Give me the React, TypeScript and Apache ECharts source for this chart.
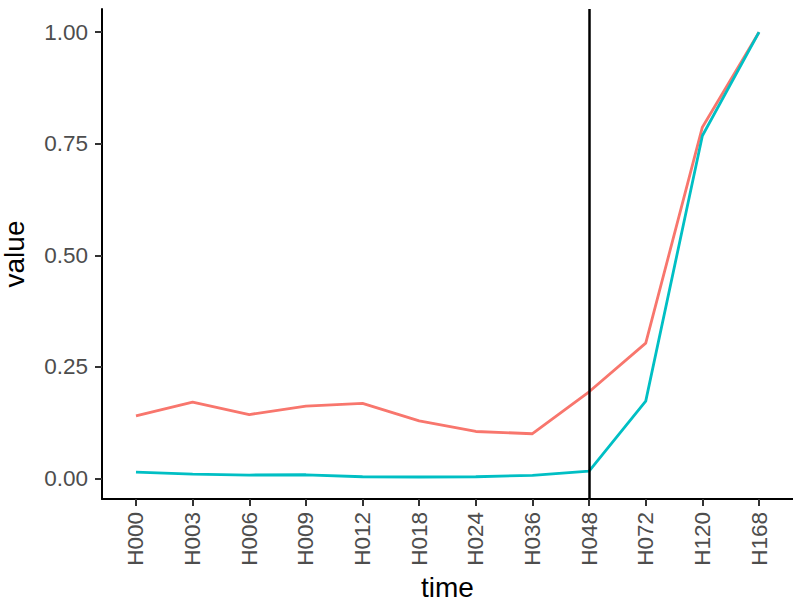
import React, { useEffect, useRef } from "react";
import * as echarts from "echarts";

const categories = ["H000", "H003", "H006", "H009", "H012", "H018", "H024", "H036", "H048", "H072", "H120", "H168"];
const seriesRed = [0.140, 0.171, 0.143, 0.162, 0.168, 0.129, 0.105, 0.100, 0.194, 0.303, 0.787, 1.0];
const seriesCyan = [0.014, 0.0096, 0.0074, 0.008, 0.0036, 0.003, 0.0036, 0.0067, 0.0163, 0.173, 0.768, 1.0];
const yTicks = [0, 0.25, 0.5, 0.75, 1.0];
const vlineCategory = "H048";

const FONT = "'Liberation Sans', Arial, Helvetica, sans-serif";

export default function App() {
  const ref = useRef<HTMLDivElement>(null);
  useEffect(() => {
    if (!ref.current) return;
    const chart = echarts.init(ref.current, null, { renderer: "svg" });
    const idx = categories.map((_, i) => i);
    const toPts = (arr: number[]) => arr.map((v, i) => [i, v]);
    chart.setOption({
      animation: false,
      backgroundColor: "#ffffff",
      grid: { left: 102, right: 0, top: 9, bottom: 104, containLabel: false, outerBoundsMode: "none" },
      xAxis: {
        type: "value",
        min: -0.6,
        max: categories.length - 1 + 0.6,
        name: "time",
        nameLocation: "middle",
        nameGap: 72,
        nameTextStyle: { fontFamily: FONT, fontSize: 28, color: "#000000" },
        splitLine: { show: false },
        axisLine: { show: true, onZero: false, lineStyle: { color: "#000000", width: 2 } },
        axisTick: { show: true, customValues: idx, length: 7, lineStyle: { color: "#333333", width: 2 } },
        axisLabel: {
          customValues: idx,
          rotate: 90,
          margin: 13,
          fontFamily: FONT,
          fontSize: 22.5,
          color: "#4D4D4D",
          formatter: (v: number) => categories[Math.round(v)] ?? "",
        },
      },
      yAxis: {
        type: "value",
        min: -0.0463,
        max: 1.052,
        name: "value",
        nameLocation: "middle",
        nameGap: 74,
        nameTextStyle: { fontFamily: FONT, fontSize: 28, color: "#000000" },
        splitLine: { show: false },
        axisLine: { show: true, onZero: false, lineStyle: { color: "#000000", width: 2 } },
        axisTick: { show: true, customValues: yTicks, length: 7, lineStyle: { color: "#333333", width: 2 } },
        axisLabel: {
          customValues: yTicks,
          margin: 14,
          fontFamily: FONT,
          fontSize: 22.5,
          color: "#4D4D4D",
          formatter: (v: number) => v.toFixed(2),
        },
      },
      series: [
        {
          type: "line",
          data: toPts(seriesRed),
          symbol: "none",
          lineStyle: { color: "#F8766D", width: 2.8 },
          itemStyle: { color: "#F8766D" },
          z: 3,
        },
        {
          type: "line",
          data: toPts(seriesCyan),
          symbol: "none",
          lineStyle: { color: "#00BFC4", width: 2.8 },
          itemStyle: { color: "#00BFC4" },
          z: 4,
          markLine: {
            silent: true,
            symbol: "none",
            label: { show: false },
            lineStyle: { color: "#000000", width: 2.5, type: "solid" },
            data: [{ xAxis: categories.indexOf(vlineCategory) }],
          },
        },
      ],
    });
    return () => chart.dispose();
  }, []);
  return <div ref={ref} style={{ width: 793, height: 603, position: "absolute", left: 0, top: 0 }} />;
}
